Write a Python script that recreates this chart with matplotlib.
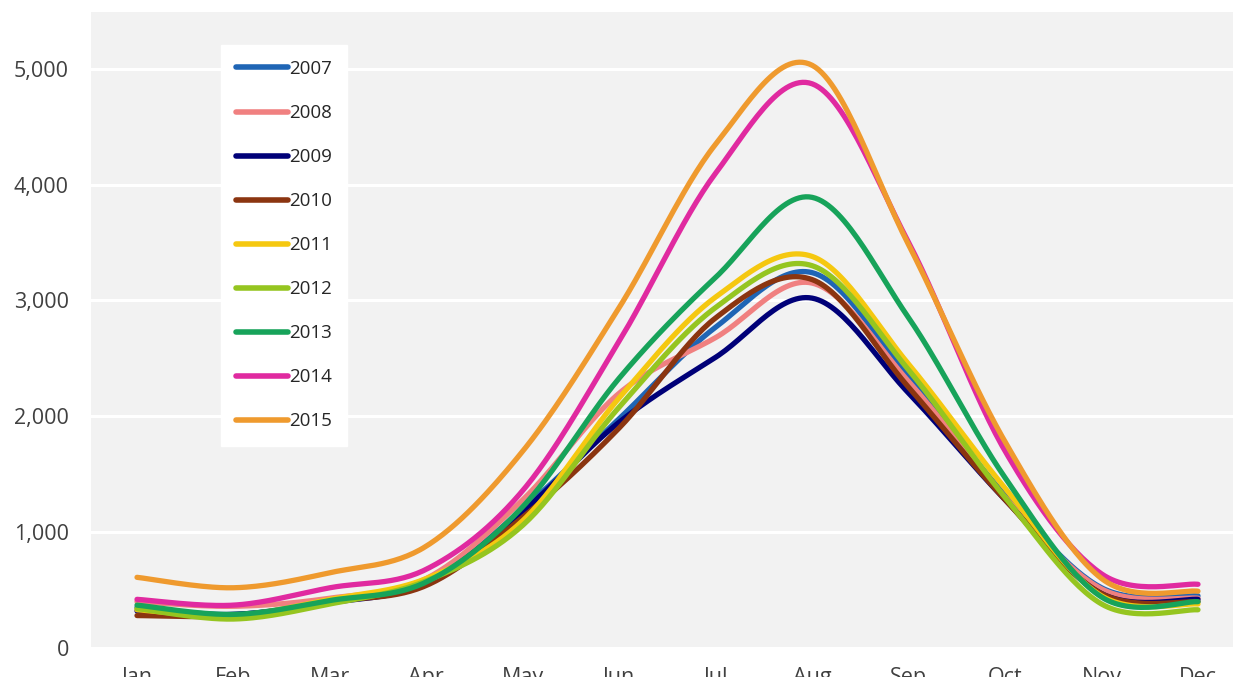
import numpy as np
import matplotlib
matplotlib.use("Agg")
import matplotlib.pyplot as plt
from matplotlib.ticker import FuncFormatter

months = ["Jan", "Feb", "Mar", "Apr", "May", "Jun", "Jul", "Aug", "Sep", "Oct", "Nov", "Dec"]
years = ["2007", "2008", "2009", "2010", "2011", "2012", "2013", "2014", "2015"]

v2007 = [350, 290, 400, 560, 1200, 1980, 2770, 3240, 2350, 1320, 520, 450]
v2008 = [400, 360, 430, 600, 1280, 2200, 2680, 3150, 2300, 1300, 510, 430]
v2009 = [320, 290, 390, 560, 1180, 1950, 2510, 3020, 2200, 1280, 470, 420]
v2010 = [280, 280, 400, 540, 1130, 1900, 2850, 3180, 2250, 1280, 470, 400]
v2011 = [330, 280, 420, 600, 1100, 2160, 3030, 3380, 2450, 1380, 450, 380]
v2012 = [340, 250, 380, 580, 1060, 2080, 2940, 3300, 2400, 1300, 380, 330]
v2013 = [370, 290, 410, 570, 1220, 2330, 3200, 3890, 2850, 1470, 440, 400]
v2014 = [420, 370, 520, 680, 1360, 2650, 4100, 4870, 3500, 1700, 640, 550]
v2015 = [610, 520, 650, 880, 1700, 2940, 4350, 5030, 3480, 1780, 600, 490]

series = [v2007, v2008, v2009, v2010, v2011, v2012, v2013, v2014, v2015]
colors = ["#1f65b5", "#f08080", "#000078", "#8b3510", "#f5c810",
          "#95c520", "#17a35a", "#e02aa0", "#ef9a2e"]


def smooth(x, y, n=30):
    """Bezier smoothing like spreadsheet 'smoothed line' (Catmull-Rom)."""
    x = np.asarray(x, float)
    y = np.asarray(y, float)
    px = np.concatenate([[x[0]], x, [x[-1]]])
    py = np.concatenate([[y[0]], y, [y[-1]]])
    xs, ys = [], []
    t = np.linspace(0, 1, n, endpoint=False)
    for i in range(1, len(px) - 2):
        p0 = np.array([px[i], py[i]])
        p3 = np.array([px[i + 1], py[i + 1]])
        c1 = p0 + (np.array([px[i + 1], py[i + 1]]) - np.array([px[i - 1], py[i - 1]])) / 6
        c2 = p3 - (np.array([px[i + 2], py[i + 2]]) - np.array([px[i], py[i]])) / 6
        pts = ((1 - t) ** 3)[:, None] * p0 + (3 * (1 - t) ** 2 * t)[:, None] * c1 \
            + (3 * (1 - t) * t ** 2)[:, None] * c2 + (t ** 3)[:, None] * p3
        xs.extend(pts[:, 0])
        ys.extend(pts[:, 1])
    xs.append(x[-1])
    ys.append(y[-1])
    return np.array(xs), np.array(ys)


plt.rcParams["font.family"] = ["Open Sans", "DejaVu Sans"]

fig = plt.figure(figsize=(12.33, 6.77), dpi=100)
ax = fig.add_axes([91 / 1233, 1 - 648 / 677, 1 - 91 / 1233, (648 - 12) / 677])
ax.set_facecolor("#f2f2f2")

x = np.arange(len(months))
for vals, col, lab in zip(series, colors, years):
    sx, sy = smooth(x, vals)
    ax.plot(sx, sy, color=col, lw=3.8, label=lab, solid_capstyle="round",
            solid_joinstyle="round")

ax.set_xlim(-0.477, 11.363)
ax.set_ylim(0, 5490)
ax.set_yticks([0, 1000, 2000, 3000, 4000, 5000])
ax.yaxis.set_major_formatter(FuncFormatter(lambda v, p: f"{int(v):,}"))
ax.set_xticks(x)
ax.set_xticklabels(months)
ax.grid(axis="y", color="white", lw=2.2)
ax.set_axisbelow(True)
for s in ax.spines.values():
    s.set_visible(False)
ax.tick_params(axis="both", length=0, labelsize=15.5, labelcolor="#404040")
ax.tick_params(axis="y", pad=16)
ax.tick_params(axis="x", pad=14)

leg = ax.legend(loc="upper left", bbox_to_anchor=(221 / 1233, 1 - 45 / 677),
                bbox_transform=fig.transFigure, borderaxespad=0,
                frameon=True, fancybox=False, framealpha=1, edgecolor="white",
                facecolor="white", fontsize=13.5, handlelength=2.75,
                handletextpad=0.08, labelspacing=1.39, borderpad=0.8)
for line in leg.get_lines():
    line.set_linewidth(4)
for t in leg.get_texts():
    t.set_color("#262626")

fig.savefig("out.png", dpi=100, facecolor="white")
